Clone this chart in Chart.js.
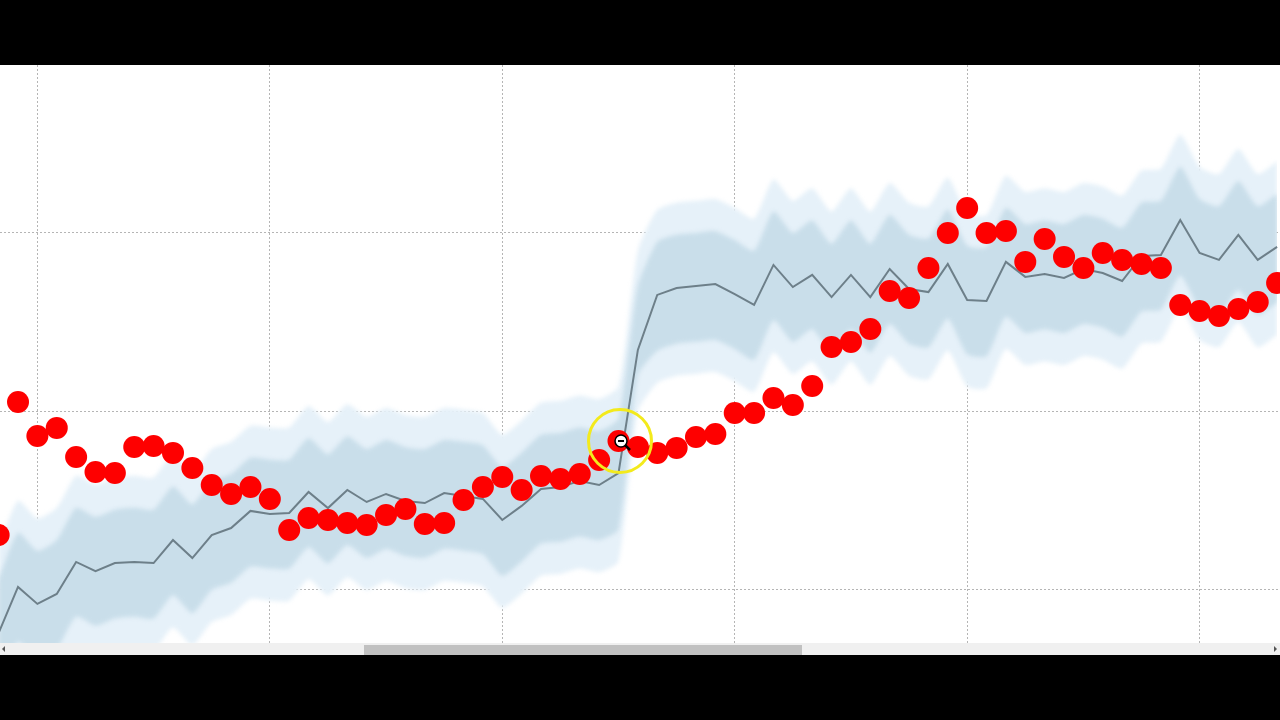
<!DOCTYPE html>
<html>
<head>
<meta charset="utf-8">
<title>Chart</title>
<script src="https://cdn.jsdelivr.net/npm/chart.js@4.4.1/dist/chart.umd.min.js"></script>
<style>
    html, body { margin: 0; padding: 0; background: #000; }
    #wrap { position: absolute; left: 0; top: 65px; width: 1280px; height: 578px; background: #fff; }
    #scroll { position: absolute; left: 0; top: 643px; width: 1280px; height: 12px; background: #f0f0f0; }
    #thumb { position: absolute; left: 364px; top: 2px; width: 438px; height: 10px; background: #c1c1c1; }
    .arr { position: absolute; top: 3px; width: 0; height: 0; border-top: 3px solid transparent; border-bottom: 3px solid transparent; }
    #arrL { left: 2px; border-right: 3px solid #555; }
    #arrR { left: 1274px; border-left: 3px solid #555; }
    #hl { position: absolute; left: 587px; top: 408px; width: 66px; height: 66px; border: 3px solid #f3ea1c; border-radius: 50%; box-sizing: border-box; }
    #cur { position: absolute; left: 612px; top: 432px; }
</style>
</head>
<body>
<div id="wrap"><canvas id="chart"></canvas></div>
<div id="scroll"><div class="arr" id="arrL"></div><div id="thumb"></div><div class="arr" id="arrR"></div></div>
<div id="hl"></div>
<svg id="cur" width="22" height="22">
    <line x1="12" y1="12" x2="18" y2="18" stroke="#000" stroke-width="2.5"/>
    <circle cx="9" cy="9" r="6" fill="#fff" stroke="#000" stroke-width="1.5"/>
    <line x1="6" y1="9" x2="12" y2="9" stroke="#000" stroke-width="2"/>
</svg>

<script>
// grid positions (tick values), labels are not shown
const xGridTicks = [2, 14, 26, 38, 50, 62];
const yGridTicks = [10, 20, 30];

// observed values (red dots)
const observed = [13.08, 20.53, 18.63, 19.08, 17.45, 16.61, 16.55, 18.01, 18.07, 17.68,
    16.83, 15.88, 15.38, 15.77, 15.10, 13.36, 14.03, 13.92, 13.75, 13.64,
    14.20, 14.54, 13.70, 13.75, 15.04, 15.77, 16.33, 15.60, 16.39, 16.22,
    16.50, 17.28, 18.35, 18.01, 17.68, 17.96, 18.57, 18.74, 19.92, 19.92,
    20.76, 20.36, 21.43, 23.61, 23.89, 24.62, 26.75, 26.36, 28.04, 30.00,
    31.40, 30.00, 30.11, 28.38, 29.66, 28.66, 28.04, 28.88, 28.49, 28.26,
    28.04, 25.97, 25.63, 25.35, 25.74, 26.13, 27.20];

// model mean (gray line)
const mean = [7.59, 10.17, 9.22, 9.78, 11.57, 11.06, 11.51, 11.57, 11.51, 12.80,
    11.79, 13.08, 13.47, 14.43, 14.26, 14.31, 15.49, 14.59, 15.60, 14.93,
    15.38, 14.99, 14.87, 15.43, 15.27, 15.10, 13.92, 14.71, 15.66, 15.77,
    16.11, 15.88, 16.55, 23.45, 26.53, 26.92, 27.03, 27.14, 26.58, 25.97,
    28.21, 26.97, 27.65, 26.41, 27.65, 26.41, 27.98, 26.86, 26.69, 28.26,
    26.25, 26.19, 28.38, 27.54, 27.70, 27.48, 27.98, 27.76, 27.31, 28.71,
    28.77, 30.73, 28.88, 28.49, 29.89, 28.49, 29.22];

// inner band (dark blue)
const innerHigh = [10.6, 13.2, 12.2, 12.8, 14.6, 14.1, 14.5, 14.6, 14.5, 15.8,
    14.8, 16.1, 16.5, 17.4, 17.3, 17.3, 18.5, 17.6, 18.6, 17.9,
    18.4, 18.0, 17.9, 18.4, 18.3, 18.1, 16.9, 17.7, 18.7, 18.8,
    19.1, 18.9, 19.6, 27.0, 29.5, 29.9, 30.0, 30.1, 29.6, 29.0,
    31.2, 30.0, 30.7, 29.4, 30.7, 29.4, 31.0, 29.9, 29.7, 31.3,
    29.3, 29.2, 31.4, 30.5, 30.7, 30.5, 31.0, 30.8, 30.3, 31.7,
    31.8, 33.7, 31.9, 31.5, 32.9, 31.5, 32.2];
const innerLow = [4.5, 7.1, 6.1, 6.7, 8.5, 8.0, 8.4, 8.5, 8.4, 9.7,
    8.7, 10.0, 10.4, 11.3, 11.2, 11.2, 12.4, 11.5, 12.5, 11.8,
    12.3, 11.9, 11.8, 12.3, 12.2, 12.0, 10.8, 11.6, 12.6, 12.7,
    13.0, 12.8, 13.4, 22.0, 23.4, 23.8, 23.9, 24.0, 23.5, 22.9,
    25.1, 23.9, 24.6, 23.3, 24.6, 23.3, 24.9, 23.8, 23.6, 25.2,
    23.2, 23.1, 25.3, 24.4, 24.6, 24.4, 24.9, 24.7, 24.2, 25.6,
    25.7, 27.6, 25.8, 25.4, 26.8, 25.4, 26.1];

// outer band (light blue)
const outerHigh = [12.4, 15.0, 14.0, 14.6, 16.4, 15.9, 16.3, 16.4, 16.3, 17.6,
    16.6, 17.9, 18.3, 19.2, 19.1, 19.1, 20.3, 19.4, 20.4, 19.7,
    20.2, 19.8, 19.7, 20.2, 20.1, 19.9, 18.7, 19.5, 20.5, 20.6,
    20.9, 20.7, 21.4, 29.0, 31.3, 31.7, 31.8, 31.9, 31.4, 30.8,
    33.0, 31.8, 32.5, 31.2, 32.5, 31.2, 32.8, 31.7, 31.5, 33.1,
    31.1, 31.0, 33.2, 32.3, 32.5, 32.3, 32.8, 32.6, 32.1, 33.5,
    33.6, 35.5, 33.7, 33.3, 34.7, 33.3, 34.0];
const outerLow = [2.7, 5.3, 4.3, 4.9, 6.7, 6.2, 6.6, 6.7, 6.6, 7.9,
    6.9, 8.2, 8.6, 9.5, 9.4, 9.4, 10.6, 9.7, 10.7, 10.0,
    10.5, 10.1, 10.0, 10.5, 10.4, 10.2, 9.0, 9.8, 10.8, 10.9,
    11.2, 11.0, 11.6, 20.0, 21.6, 22.0, 22.1, 22.2, 21.7, 21.1,
    23.3, 22.1, 22.8, 21.5, 22.8, 21.5, 23.1, 22.0, 21.8, 23.4,
    21.4, 21.3, 23.5, 22.6, 22.8, 22.6, 23.1, 22.9, 22.4, 23.8,
    23.9, 25.8, 24.0, 23.6, 25.0, 23.6, 24.3];

// index -> {x, y}
function pts(arr) {
    return arr.map((v, i) => ({ x: i, y: v }));
}

function band(arr, color, fill, order) {
    return {
        data: pts(arr),
        borderWidth: 0,
        pointRadius: 0,
        backgroundColor: color,
        fill: fill,
        order: order,
        tension: 0.2
    };
}

// soft edges on the bands (blur on while bands are filled, off before the line)
const softBands = {
    id: 'softBands',
    beforeDatasetsDraw(chart) {
        chart.ctx.filter = 'blur(2px)';
    },
    afterDatasetDraw(chart, args) {
        if (args.index === 2) chart.ctx.filter = 'none';
    }
};

const ctx = document.getElementById('chart').getContext('2d');
new Chart(ctx, {
    type: 'line',
    data: {
        datasets: [
            band(outerHigh, '#e6f1f9', '+1', 4),
            band(outerLow, '#e6f1f9', false, 4),
            band(innerHigh, '#c9deea', '+1', 3),
            band(innerLow, '#c9deea', false, 3),
            {
                data: pts(mean),
                borderColor: '#6d7f89',
                borderWidth: 2,
                pointRadius: 0,
                fill: false,
                order: 2
            },
            {
                data: pts(observed),
                showLine: false,
                pointRadius: 11,
                pointBorderWidth: 0,
                pointBackgroundColor: '#fe0000',
                clip: false,
                order: 1
            }
        ]
    },
    plugins: [softBands],
    options: {
        responsive: true,
        maintainAspectRatio: false,
        animation: false,
        layout: { padding: 0, autoPadding: false },
        plugins: {
            legend: { display: false },
            tooltip: { enabled: false }
        },
        scales: {
            x: {
                type: 'linear',
                min: 0.07,
                max: 66.15,
                afterBuildTicks: scale => { scale.ticks = xGridTicks.map(v => ({ value: v })); },
                ticks: { display: false },
                grid: { color: '#b5b5b5', lineWidth: 1, drawTicks: false },
                border: { display: false, dash: [2, 2] }
            },
            y: {
                min: 7.03,
                max: 39.41,
                afterBuildTicks: scale => { scale.ticks = yGridTicks.map(v => ({ value: v })); },
                ticks: { display: false },
                grid: { color: '#b5b5b5', lineWidth: 1, drawTicks: false },
                border: { display: false, dash: [2, 2] }
            }
        }
    }
});
</script>
</body>
</html>
